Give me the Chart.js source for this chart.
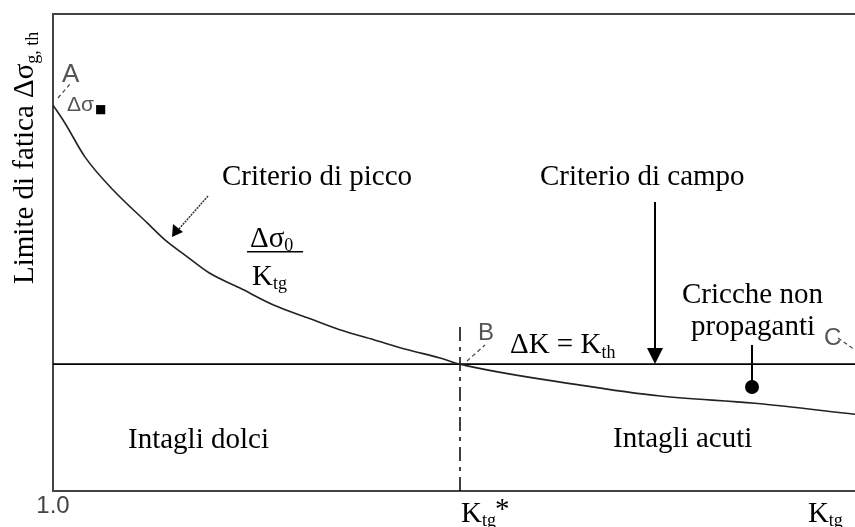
<!DOCTYPE html>
<html>
<head>
<meta charset="utf-8">
<script src="https://cdn.jsdelivr.net/npm/chart.js@4.4.1/dist/chart.umd.min.js"></script>
<style>
  body { margin: 0; background: #fff; }
  #wrap { width: 855px; height: 527px; }
</style>
</head>
<body>
<div id="wrap"><canvas id="limiteFatica" width="855" height="527"></canvas></div>
<script>
// --- DATI ---
// curva limite di fatica (criterio di picco fino a B, poi tratto C)
var curveKtg   = [1.00, 1.06, 1.16, 1.30, 1.47, 1.56, 1.67, 1.78, 1.93, 2.10, 2.27, 2.43, 2.60, 2.77, 2.93, 3.03, 3.63, 4.03, 4.50, 5.00];
var curveSigma = [80.9, 77.1, 70.0, 63.1, 56.2, 52.6, 49.1, 45.7, 42.6, 39.0, 36.3, 33.8, 31.7, 29.6, 27.9, 26.6, 22.2, 19.9, 18.4, 16.1];

// soglia dK = Kth (criterio di campo)
var thresholdKtg   = [1.0, 5.0];
var thresholdSigma = [26.6, 26.6];

// Ktg* : separazione intagli dolci / acuti
var ktgStar = 3.03;
var starLineSigma = [0, 34.8];

// etichette asse x
var xTickValues = [1.0, ktgStar, 4.76];
var xTickLabels = [['1.0', ''], ['K', 'tg', '*'], ['K', 'tg', '']];

function toPoints(xs, ys){
  return xs.map(function(x, i){ return {x: x, y: ys[i]}; });
}

var SERIF = '"Liberation Serif", "Times New Roman", serif';
var SANS  = '"Liberation Sans", Arial, sans-serif';

// testo con pedice
function drawSub(ctx, main, sub, x, y, size, subSize, subDy){
  ctx.font = size + 'px ' + SERIF;
  ctx.fillText(main, x, y);
  var w = ctx.measureText(main).width;
  ctx.font = subSize + 'px ' + SERIF;
  ctx.fillText(sub, x + w, y + subDy);
  return x + w + ctx.measureText(sub).width;
}

function dashedLeader(ctx, x1, y1, x2, y2){
  ctx.save();
  ctx.strokeStyle = '#444';
  ctx.lineWidth = 1.2;
  ctx.setLineDash([4, 3]);
  ctx.beginPath(); ctx.moveTo(x1, y1); ctx.lineTo(x2, y2); ctx.stroke();
  ctx.restore();
}

var labelsPlugin = {
  id: 'labelsPlugin',
  afterDraw: function(chart){
    var ctx = chart.ctx;
    var area = chart.chartArea;
    var xs = chart.scales.x, ys = chart.scales.y;
    ctx.save();

    // bordo superiore del riquadro
    ctx.strokeStyle = '#444';
    ctx.lineWidth = 2;
    ctx.beginPath(); ctx.moveTo(area.left - 1, area.top); ctx.lineTo(area.right, area.top); ctx.stroke();

    ctx.fillStyle = '#000';
    ctx.textBaseline = 'alphabetic';
    ctx.textAlign = 'left';

    // titolo asse y
    ctx.save();
    ctx.translate(33, 284);
    ctx.rotate(-Math.PI / 2);
    drawSub(ctx, 'Limite di fatica \u0394\u03c3', 'g, th', 0, 0, 29, 18, 5);
    ctx.restore();

    // etichette asse x
    ctx.fillStyle = '#444';
    ctx.font = '24px ' + SANS;
    ctx.textAlign = 'center';
    ctx.fillText(xTickLabels[0][0], xs.getPixelForValue(xTickValues[0]), 513);
    ctx.textAlign = 'left';
    ctx.fillStyle = '#000';
    for (var i = 1; i < xTickValues.length; i++){
      var px = xs.getPixelForValue(xTickValues[i]) + 1;
      var end = drawSub(ctx, xTickLabels[i][0], xTickLabels[i][1], px, 522, 29, 18, 4);
      if (xTickLabels[i][2]){
        ctx.font = '29px ' + SERIF;
        ctx.fillText(xTickLabels[i][2], end - 1, 518);
      }
    }

    // testi
    ctx.font = '29px ' + SERIF;
    ctx.fillText('Criterio di picco', 222, 185);
    ctx.fillText('Criterio di campo', 540, 185);
    ctx.fillText('Cricche non', 682, 303);
    ctx.fillText('propaganti', 691, 335);
    ctx.fillText('Intagli dolci', 128, 448);
    ctx.fillText('Intagli acuti', 613, 447);
    drawSub(ctx, '\u0394K = K', 'th', 510, ys.getPixelForValue(thresholdSigma[0]) - 11, 29, 18, 5);

    // frazione dSigma0 / Ktg
    drawSub(ctx, '\u0394\u03c3', '0', 250, 247, 29, 18, 4);
    ctx.fillRect(247, 251, 56, 1.5);
    drawSub(ctx, 'K', 'tg', 252, 285, 29, 18, 4);

    // punti A, B, C
    ctx.fillStyle = '#555';
    ctx.font = '26px ' + SANS;
    ctx.fillText('A', 62, 82);
    ctx.font = '24px ' + SANS;
    ctx.fillText('B', 478, 340);
    ctx.fillText('C', 824, 345);
    ctx.font = '21px ' + SANS;
    ctx.fillText('\u0394\u03c3', 67, 111);
    var wSig = ctx.measureText('\u0394\u03c3').width;
    ctx.fillStyle = '#000';
    ctx.font = '12px "DejaVu Sans"';
    ctx.fillText('\u25a0', 67 + wSig + 1, 113);
    dashedLeader(ctx, 58, 98, 70, 84);
    dashedLeader(ctx, 467, 361, 485, 345);
    dashedLeader(ctx, 838, 338, 855, 350);

    // freccia criterio di picco
    ctx.strokeStyle = '#333';
    ctx.lineWidth = 1.5;
    ctx.setLineDash([2, 1]);
    ctx.beginPath(); ctx.moveTo(208, 196); ctx.lineTo(178, 230); ctx.stroke();
    ctx.setLineDash([]);
    ctx.fillStyle = '#000';
    ctx.beginPath();
    ctx.moveTo(172, 237); ctx.lineTo(173, 224); ctx.lineTo(183, 232); ctx.closePath(); ctx.fill();

    // freccia criterio di campo
    var yTh = ys.getPixelForValue(thresholdSigma[0]);
    ctx.strokeStyle = '#000';
    ctx.lineWidth = 2;
    ctx.beginPath(); ctx.moveTo(655, 202); ctx.lineTo(655, yTh - 14); ctx.stroke();
    ctx.beginPath();
    ctx.moveTo(655, yTh); ctx.lineTo(647, yTh - 16); ctx.lineTo(663, yTh - 16); ctx.closePath(); ctx.fill();

    // indicatore cricche non propaganti
    ctx.beginPath(); ctx.moveTo(752, 345); ctx.lineTo(752, 387); ctx.stroke();
    ctx.beginPath(); ctx.arc(752, 387, 7, 0, Math.PI * 2); ctx.fill();

    ctx.restore();
  }
};

const ctx = document.getElementById('limiteFatica').getContext('2d');
var limiteChart = new Chart(ctx, {
  type: 'line',
  data: {
    datasets: [{
      label: 'Limite di fatica',
      data: toPoints(curveKtg, curveSigma),
      borderColor: '#222',
      borderWidth: 1.6,
      pointRadius: 0,
      cubicInterpolationMode: 'monotone',
      fill: false
    }, {
      label: 'dK = Kth',
      data: toPoints(thresholdKtg, thresholdSigma),
      borderColor: '#000',
      borderWidth: 1.8,
      pointRadius: 0,
      fill: false
    }, {
      label: 'Ktg*',
      data: toPoints([ktgStar, ktgStar], starLineSigma),
      borderColor: '#000',
      borderWidth: 1.5,
      borderDash: [14, 6, 4, 6],
      pointRadius: 0,
      fill: false
    }]
  },
  options: {
    responsive: false,
    animation: false,
    layout: { padding: { left: 53, top: 14, right: 0, bottom: 36 } },
    plugins: { legend: { display: false }, tooltip: { enabled: false } },
    scales: {
      x: {
        type: 'linear', min: 1, max: 5,
        grid: { display: false, drawTicks: false },
        ticks: { display: false },
        border: { display: true, color: '#444', width: 2 }
      },
      y: {
        type: 'linear', min: 0, max: 100,
        grid: { display: false, drawTicks: false },
        ticks: { display: false },
        border: { display: true, color: '#444', width: 2 }
      }
    }
  },
  plugins: [labelsPlugin]
});
</script>
</body>
</html>
